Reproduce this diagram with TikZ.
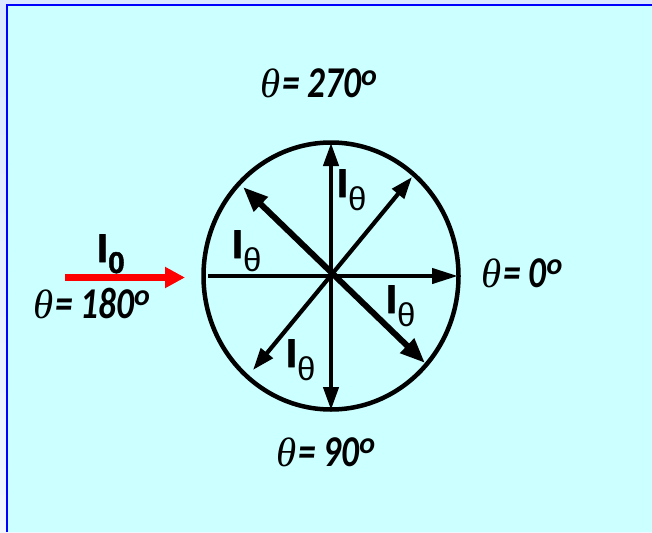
\documentclass[tikz,border=0pt]{standalone}
\usepackage{fontspec}
\usepackage{graphicx}
\usetikzlibrary{arrows.meta}
\newfontfamily\thfont{Liberation Serif}
\newfontfamily\numfont[FakeStretch=0.8]{Carlito}
\newfontfamily\supfont{Carlito}
\newfontfamily\Ifont[BoldFeatures={FakeBold=1.5}]{Liberation Sans}
\newfontfamily\subfont{Liberation Sans}
\definecolor{outerbg}{HTML}{DCE8FF}
\definecolor{innerbg}{HTML}{CCFFFF}
\definecolor{frameblue}{HTML}{0000FF}
\newcommand{\angtext}[1]{{\fontsize{41}{46}\selectfont\thfont\itshape θ}\hspace{2pt}{\fontsize{44}{50}\selectfont\numfont\bfseries\itshape =\hspace{8pt}#1}\raisebox{13pt}{\fontsize{30}{34}\selectfont\supfont\bfseries\itshape o}}
\newcommand{\Ith}{{\fontsize{40}{44}\selectfont\Ifont\bfseries I}\raisebox{-13pt}{\fontsize{33}{36}\selectfont\subfont θ}}
\tikzset{
  ring/.style={draw=black, line width=4.5pt},
  vec/.style={draw=black, line width=4.2pt},
  thickvec/.style={draw=black, line width=6pt},
  lbl/.style={anchor=base west, inner sep=0pt, outer sep=0pt},
  redvec/.style={draw=red, line width=6.7pt, -{Triangle[length=20pt,width=20pt]}}
}
\begin{document}
\begin{tikzpicture}[x=1pt,y=-1pt]
\useasboundingbox (0,0) rectangle (652,532);
\shade[top color=outerbg, bottom color=outerbg!40!white] (0,0) rectangle (652,532);
\fill[innerbg] (7,5) rectangle (652,532);
\draw[frameblue, line width=2.6pt] (7,532) -- (7,5) -- (652,5);

% circle
\coordinate (c) at (331,276);
\draw[ring] (c) ellipse [x radius=127.5, y radius=133.5];

% arrow end points
\coordinate (n) at (331,143);
\coordinate (s) at (331,410);
\coordinate (e) at (458,276);
\coordinate (w) at (208,276);
\coordinate (nw) at (243,187);
\coordinate (se) at (425,363);
\coordinate (ne) at (412,177);
\coordinate (sw) at (253,370);

\draw[vec, {Triangle[length=23pt,width=15pt]}-{Triangle[length=23pt,width=15pt]}] (n) -- (s);
\draw[vec, -{Triangle[length=26pt,width=15pt]}] (w) -- (e);
\draw[thickvec, {Triangle[length=25pt,width=19pt]}-{Triangle[length=25pt,width=19pt]}] (nw) -- (se);
\draw[vec, {Triangle[length=22pt,width=15pt]}-{Triangle[length=22pt,width=15pt]}] (ne) -- (sw);

% I_theta labels
\node[lbl] (ltop) at (337,197) {\Ith};
\node[lbl] (lleft) at (232,258) {\Ith};
\node[lbl] (lright) at (386,313) {\Ith};
\node[lbl] (lbot) at (286,367) {\Ith};

% incident beam
\coordinate (r0) at (65,277.5);
\coordinate (r1) at (185,277.5);
\draw[redvec] (r0) -- (r1);
\node[lbl] (i0) at (97,262) {{\fontsize{40}{44}\selectfont\Ifont\bfseries I}\raisebox{-11pt}{\fontsize{30}{34}\selectfont\Ifont\bfseries 0}};

% angle labels
\node[lbl] (a270) at (260,98) {\angtext{270}};
\node[lbl] (a0) at (481,287) {\angtext{0}};
\node[lbl] (a180) at (33,318) {\angtext{180}};
\node[lbl] (a90) at (276,466) {\angtext{90}};
\end{tikzpicture}
\end{document}
